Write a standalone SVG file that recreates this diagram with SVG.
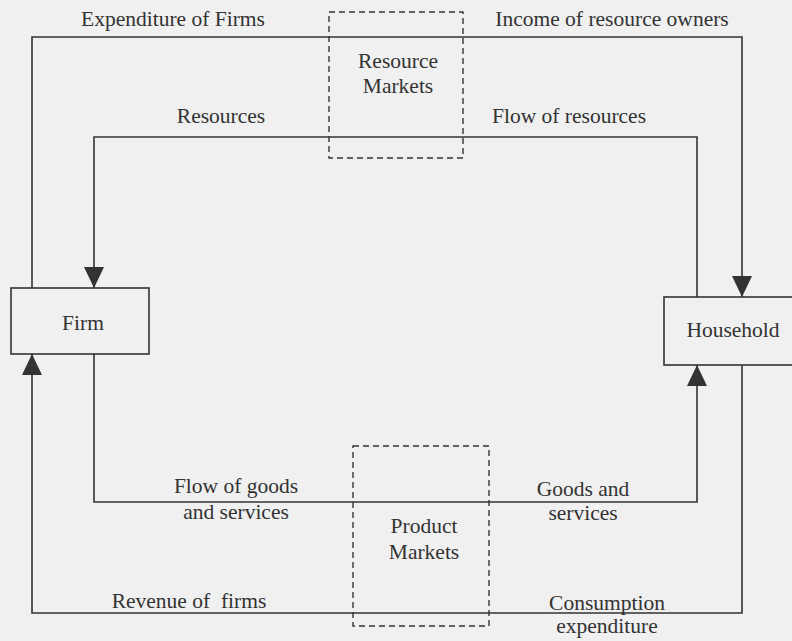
<svg xmlns="http://www.w3.org/2000/svg" width="792" height="641" viewBox="0 0 792 641">
<style>
.bg{fill:#eff0ef}
.box{fill:none;stroke:#333;stroke-width:1.6}
.dash{fill:none;stroke:#333;stroke-width:1.4;stroke-dasharray:6,4}
.flow{fill:none;stroke:#333;stroke-width:1.6}
.t{font-family:'Liberation Serif','Times New Roman',serif;font-size:21.5px;fill:#333;text-anchor:middle}
</style>
<defs>
<marker id="arr" markerUnits="userSpaceOnUse" markerWidth="22" markerHeight="22" refX="21" refY="10" orient="auto" viewBox="0 0 22 20">
<path d="M0,0 L21,10 L0,20 z" fill="#333"/>
</marker>
</defs>
<rect class="bg" x="0" y="0" width="792" height="641"/>
<g id="connectors">
<path class="flow" d="M32,288 V37 H742 V297" marker-end="url(#arr)"/>
<path class="flow" d="M697,297 V137 H94 V288" marker-end="url(#arr)"/>
<path class="flow" d="M94,354 V502 H697 V365" marker-end="url(#arr)"/>
<path class="flow" d="M742,365 V613 H32 V354" marker-end="url(#arr)"/>
<text x="173" y="26" class="t">Expenditure of Firms</text>
<text x="612" y="26" class="t">Income of resource owners</text>
<text x="221" y="123" class="t">Resources</text>
<text x="569" y="123" class="t">Flow of resources</text>
<text x="236" y="493" class="t">Flow of goods</text>
<text x="236" y="519" class="t">and services</text>
<text x="583" y="496" class="t">Goods and</text>
<text x="583" y="520" class="t">services</text>
<text x="189" y="608" class="t" xml:space="preserve">Revenue of  firms</text>
<text x="607" y="610" class="t">Consumption</text>
<text x="607" y="633" class="t">expenditure</text>
</g>
<g id="resource-markets">
<rect class="dash" x="329" y="12" width="134" height="146"/>
<text x="398" y="68" class="t">Resource</text>
<text x="398" y="93" class="t">Markets</text>
</g>
<g id="product-markets">
<rect class="dash" x="353" y="446" width="136" height="180"/>
<text x="424" y="533" class="t">Product</text>
<text x="424" y="559" class="t">Markets</text>
</g>
<g id="firm">
<rect class="box" x="11" y="288" width="138" height="66"/>
<text x="83" y="330" class="t">Firm</text>
</g>
<g id="household">
<rect class="box" x="664" y="297" width="140" height="68"/>
<text x="733" y="337" class="t">Household</text>
</g>
</svg>
